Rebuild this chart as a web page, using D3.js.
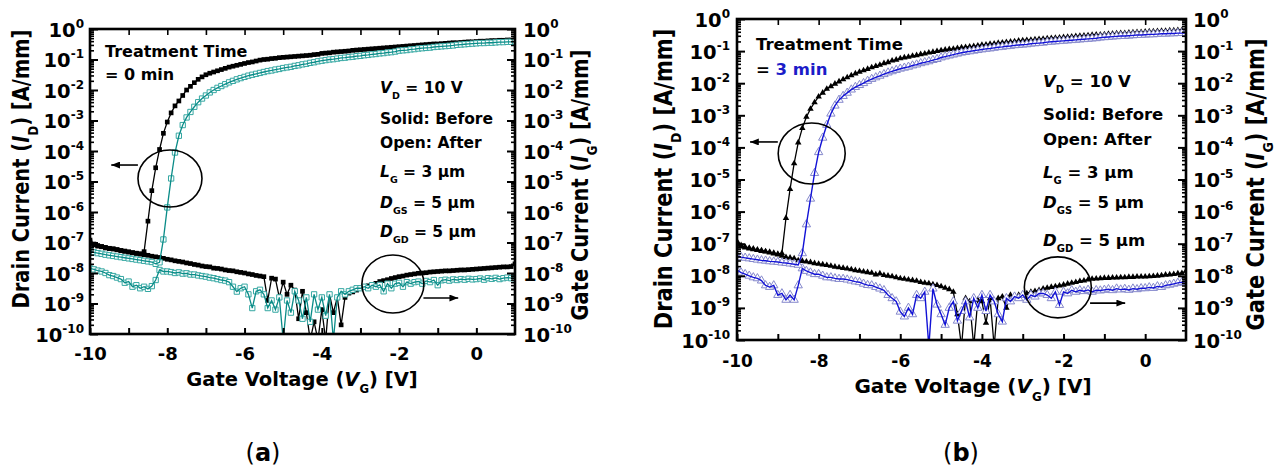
<!DOCTYPE html>
<html><head><meta charset="utf-8">
<script src="https://cdn.jsdelivr.net/npm/d3@7"></script>
<style>
body{margin:0;background:#fff}
svg{display:block}
text{font-family:"DejaVu Sans",Verdana,sans-serif;font-weight:bold;fill:#000}
</style>
</head><body>
<svg id="c" width="1282" height="468"></svg>
<script>
// Gate voltage grid (V)
const vg = [-10,-9.9,-9.8,-9.7,-9.6,-9.5,-9.4,-9.3,-9.2,-9.1,
 -9,-8.9,-8.8,-8.7,-8.6,-8.5,-8.4,-8.3,-8.2,-8.1,
 -8,-7.9,-7.8,-7.7,-7.6,-7.5,-7.4,-7.3,-7.2,-7.1,
 -7,-6.9,-6.8,-6.7,-6.6,-6.5,-6.4,-6.3,-6.2,-6.1,
 -6,-5.9,-5.8,-5.7,-5.6,-5.5,-5.4,-5.3,-5.2,-5.1,
 -5,-4.9,-4.8,-4.7,-4.6,-4.5,-4.4,-4.3,-4.2,-4.1,
 -4,-3.9,-3.8,-3.7,-3.6,-3.5,-3.4,-3.3,-3.2,-3.1,
 -3,-2.9,-2.8,-2.7,-2.6,-2.5,-2.4,-2.3,-2.2,-2.1,
 -2,-1.9,-1.8,-1.7,-1.6,-1.5,-1.4,-1.3,-1.2,-1.1,
 -1,-0.9,-0.8,-0.7,-0.6,-0.5,-0.4,-0.3,-0.2,-0.1,
 0,0.1,0.2,0.3,0.4,0.5,0.6,0.7,0.8,0.9,
 1];

// All currents below are log10 of the current in A/mm.
// Panel (a), treatment time 0 min
const idBeforeA = [-6.92,-7.05,-7.10,-7.13,-7.16,-7.19,-7.21,-7.23,-7.26,-7.28,
 -7.31,-7.33,-7.35,-7.37,-7.30,-6.30,-5.30,-4.55,-3.95,-3.42,
 -3.05,-2.75,-2.52,-2.36,-2.18,-2.00,-1.88,-1.76,-1.65,-1.57,
 -1.50,-1.45,-1.41,-1.37,-1.33,-1.29,-1.25,-1.22,-1.19,-1.16,
 -1.13,-1.10,-1.08,-1.05,-1.02,-1.00,-0.99,-0.97,-0.96,-0.94,
 -0.93,-0.92,-0.91,-0.90,-0.89,-0.88,-0.87,-0.86,-0.84,-0.83,
 -0.80,-0.79,-0.78,-0.76,-0.75,-0.74,-0.73,-0.72,-0.70,-0.69,
 -0.68,-0.67,-0.66,-0.65,-0.64,-0.63,-0.62,-0.61,-0.60,-0.59,
 -0.58,-0.57,-0.56,-0.55,-0.54,-0.53,-0.52,-0.51,-0.50,-0.49,
 -0.49,-0.48,-0.47,-0.46,-0.45,-0.45,-0.44,-0.43,-0.42,-0.42,
 -0.41,-0.40,-0.40,-0.39,-0.38,-0.38,-0.37,-0.37,-0.36,-0.36,
 -0.35];
const igBeforeA = [-6.98,-7.08,-7.12,-7.14,-7.18,-7.20,-7.21,-7.24,-7.27,-7.29,
 -7.31,-7.34,-7.36,-7.38,-7.40,-7.42,-7.45,-7.47,-7.49,-7.52,
 -7.55,-7.57,-7.60,-7.62,-7.64,-7.67,-7.69,-7.72,-7.74,-7.77,
 -7.79,-7.80,-7.84,-7.85,-7.87,-7.90,-7.92,-7.93,-7.96,-7.98,
 -8.00,-8.03,-8.05,-8.08,-8.10,-8.12,-8.90,-8.17,-8.20,-8.80,
 -8.30,-8.70,-8.40,-8.56,-9.50,-8.60,-9.30,-10.2,-9.60,-10.2,
 -9.20,-10.2,-8.70,-9.30,-8.80,-9.70,-8.80,-8.66,-8.62,-8.56,
 -8.50,-8.46,-8.42,-8.38,-8.34,-8.28,-8.25,-8.22,-8.18,-8.15,
 -8.12,-8.10,-8.07,-8.05,-8.03,-8.01,-8.00,-7.99,-7.97,-7.96,
 -7.95,-7.94,-7.93,-7.93,-7.92,-7.91,-7.90,-7.90,-7.89,-7.88,
 -7.87,-7.86,-7.85,-7.84,-7.83,-7.82,-7.81,-7.80,-7.80,-7.79,
 -7.70];
const idAfterA = [-7.28,-7.32,-7.35,-7.37,-7.40,-7.42,-7.44,-7.46,-7.48,-7.50,
 -7.52,-7.54,-7.56,-7.58,-7.60,-7.62,-7.64,-7.70,-7.65,-6.90,
 -5.85,-4.90,-4.05,-3.50,-3.15,-2.90,-2.72,-2.55,-2.40,-2.28,
 -2.18,-2.08,-2.00,-1.93,-1.87,-1.81,-1.75,-1.70,-1.65,-1.61,
 -1.57,-1.53,-1.50,-1.47,-1.44,-1.41,-1.38,-1.36,-1.33,-1.31,
 -1.28,-1.26,-1.24,-1.21,-1.19,-1.16,-1.14,-1.11,-1.09,-1.06,
 -1.04,-1.02,-1.00,-0.99,-0.97,-0.95,-0.94,-0.92,-0.91,-0.89,
 -0.88,-0.86,-0.85,-0.83,-0.82,-0.80,-0.79,-0.77,-0.76,-0.74,
 -0.71,-0.70,-0.69,-0.67,-0.66,-0.64,-0.63,-0.62,-0.61,-0.59,
 -0.58,-0.57,-0.56,-0.55,-0.54,-0.52,-0.51,-0.50,-0.49,-0.48,
 -0.47,-0.46,-0.46,-0.45,-0.45,-0.44,-0.43,-0.43,-0.42,-0.42,
 -0.41];
const igAfterA = [-7.85,-7.88,-7.92,-7.95,-8.00,-8.07,-8.10,-8.15,-8.20,-8.32,
 -8.28,-8.45,-8.40,-8.50,-8.45,-8.52,-8.43,-8.23,-7.90,-7.95,
 -7.95,-7.97,-8.00,-7.98,-8.02,-8.01,-8.05,-8.05,-8.08,-8.10,
 -8.12,-8.15,-8.17,-8.20,-8.23,-8.25,-8.30,-8.45,-8.61,-8.50,
 -8.45,-8.70,-9.15,-8.60,-8.55,-8.70,-9.15,-8.90,-9.20,-8.80,
 -10.2,-8.90,-9.30,-8.60,-8.90,-9.50,-8.80,-9.60,-8.70,-9.20,
 -8.80,-9.40,-8.70,-10.2,-8.80,-8.60,-8.70,-8.60,-8.55,-8.50,
 -8.50,-8.45,-8.50,-8.40,-8.45,-8.39,-8.60,-8.35,-8.50,-8.35,
 -8.32,-8.45,-8.30,-8.35,-8.30,-8.28,-8.35,-8.26,-8.30,-8.23,
 -8.40,-8.24,-8.22,-8.25,-8.21,-8.23,-8.20,-8.22,-8.19,-8.21,
 -8.20,-8.18,-8.22,-8.17,-8.19,-8.16,-8.20,-8.17,-8.15,-8.17,
 -8.17];

// Panel (b), treatment time 3 min
const idBeforeB = [-6.92,-7.05,-7.10,-7.13,-7.16,-7.19,-7.21,-7.24,-7.26,-7.29,
 -7.32,-7.30,-6.20,-5.30,-4.50,-3.85,-3.40,-3.05,-2.80,-2.60,
 -2.42,-2.30,-2.18,-2.10,-2.02,-1.95,-1.88,-1.82,-1.76,-1.70,
 -1.65,-1.60,-1.56,-1.51,-1.47,-1.43,-1.38,-1.35,-1.30,-1.27,
 -1.23,-1.20,-1.18,-1.15,-1.13,-1.10,-1.08,-1.05,-1.03,-1.00,
 -0.98,-0.96,-0.94,-0.93,-0.91,-0.89,-0.88,-0.86,-0.85,-0.83,
 -0.81,-0.80,-0.78,-0.77,-0.75,-0.74,-0.72,-0.71,-0.70,-0.68,
 -0.67,-0.66,-0.65,-0.64,-0.63,-0.62,-0.61,-0.60,-0.59,-0.58,
 -0.57,-0.56,-0.55,-0.54,-0.53,-0.52,-0.51,-0.50,-0.49,-0.49,
 -0.48,-0.47,-0.46,-0.45,-0.44,-0.44,-0.43,-0.42,-0.41,-0.41,
 -0.40,-0.39,-0.39,-0.38,-0.37,-0.37,-0.36,-0.36,-0.35,-0.35,
 -0.34];
const igBeforeB = [-6.98,-7.09,-7.12,-7.15,-7.18,-7.20,-7.23,-7.25,-7.28,-7.31,
 -7.34,-7.38,-7.42,-7.44,-7.46,-7.52,-7.54,-7.56,-7.58,-7.61,
 -7.63,-7.65,-7.67,-7.69,-7.72,-7.74,-7.76,-7.78,-7.80,-7.83,
 -7.85,-7.87,-7.89,-7.91,-7.96,-7.93,-7.98,-8.00,-8.02,-8.05,
 -8.08,-8.10,-8.12,-8.14,-8.16,-8.20,-8.22,-8.24,-8.27,-8.29,
 -8.33,-8.38,-8.42,-8.50,-9.20,-10.2,-8.70,-8.80,-10.2,-8.75,
 -8.80,-9.47,-8.70,-10.2,-8.70,-8.65,-9.00,-8.60,-8.65,-8.60,
 -8.58,-8.55,-8.50,-8.48,-8.45,-8.40,-8.38,-8.35,-8.33,-8.31,
 -8.28,-8.25,-8.22,-8.20,-8.17,-8.15,-8.12,-8.10,-8.09,-8.08,
 -8.07,-8.07,-8.06,-8.06,-8.05,-8.05,-8.04,-8.04,-8.03,-8.03,
 -8.03,-8.02,-8.01,-8.00,-7.99,-7.97,-7.96,-7.95,-7.93,-7.92,
 -7.85];
const idAfterB = [-7.38,-7.42,-7.44,-7.46,-7.48,-7.50,-7.52,-7.53,-7.55,-7.56,
 -7.57,-7.59,-7.60,-7.62,-7.64,-7.66,-7.30,-6.40,-5.60,-4.80,
 -4.15,-3.70,-3.30,-2.95,-2.70,-2.52,-2.40,-2.30,-2.20,-2.12,
 -2.06,-2.00,-1.93,-1.87,-1.82,-1.77,-1.72,-1.67,-1.63,-1.59,
 -1.55,-1.52,-1.49,-1.45,-1.42,-1.38,-1.35,-1.32,-1.28,-1.25,
 -1.20,-1.17,-1.14,-1.11,-1.08,-1.05,-1.03,-1.01,-0.99,-0.97,
 -0.95,-0.93,-0.92,-0.90,-0.88,-0.87,-0.85,-0.84,-0.82,-0.81,
 -0.80,-0.79,-0.77,-0.76,-0.75,-0.74,-0.72,-0.71,-0.70,-0.69,
 -0.68,-0.67,-0.66,-0.65,-0.64,-0.63,-0.62,-0.61,-0.60,-0.58,
 -0.57,-0.56,-0.55,-0.54,-0.53,-0.53,-0.52,-0.51,-0.50,-0.50,
 -0.49,-0.48,-0.48,-0.47,-0.46,-0.46,-0.45,-0.45,-0.44,-0.44,
 -0.44];
const igAfterB = [-7.82,-7.90,-7.95,-8.00,-8.05,-8.08,-8.15,-8.30,-8.35,-8.30,
 -8.60,-8.55,-8.75,-8.60,-8.75,-8.30,-7.77,-7.85,-7.90,-7.95,
 -7.95,-8.00,-8.05,-8.05,-8.08,-8.10,-8.10,-8.12,-8.15,-8.18,
 -8.20,-8.25,-8.29,-8.30,-8.35,-8.40,-8.45,-8.60,-8.70,-8.80,
 -9.12,-9.27,-9.00,-9.20,-8.60,-8.70,-8.50,-10.2,-8.40,-8.90,
 -9.20,-9.53,-9.00,-8.80,-9.40,-9.10,-8.80,-9.30,-8.70,-9.00,
 -8.60,-9.10,-8.60,-8.80,-9.20,-9.43,-8.70,-8.80,-8.65,-8.70,
 -8.60,-8.75,-8.60,-8.65,-8.55,-8.55,-8.60,-8.70,-8.50,-8.91,
 -8.50,-8.55,-8.45,-8.50,-8.45,-8.48,-8.44,-8.50,-8.45,-8.46,
 -8.44,-8.42,-8.45,-8.40,-8.43,-8.41,-8.44,-8.40,-8.42,-8.39,
 -8.39,-8.36,-8.38,-8.33,-8.35,-8.30,-8.28,-8.25,-8.22,-8.20,
 -8.18];

// Axis tick values
const yDecades = [1e0,1e-1,1e-2,1e-3,1e-4,1e-5,1e-6,1e-7,1e-8,1e-9,1e-10];
const xLabelTicks = [-10,-8,-6,-4,-2,0];
const xMinorTicks = [-9,-7,-5,-3,-1];
const xTopTicks = [-9,-8,-7,-6,-5,-4,-3,-2,-1,0];

const svg = d3.select('#c');
const defs = svg.append('defs');
defs.append('marker').attr('id','arr').attr('viewBox','0 0 10 8').attr('refX',10).attr('refY',4)
  .attr('markerWidth',10).attr('markerHeight',7).attr('markerUnits','userSpaceOnUse').attr('orient','auto')
  .append('path').attr('d','M0,0L10,4L0,8Z').attr('fill','#000');

function rich(t, parts, fs){
  let shift = 0;
  parts.forEach(p=>{
    const s = t.append('tspan').text(p.t);
    const target = p.sub ? fs*0.38 : 0;
    if(target !== shift){ s.attr('dy', target-shift); shift = target; }
    if(p.sub) s.attr('font-size', p.ss || fs*0.6);
    if(p.i) s.attr('font-style','italic');
    if(p.c) s.style('fill', p.c);
    if(p.w) s.attr('font-weight', p.w);
  });
}

function drawPanel(cfg){
  const x = d3.scaleLinear().domain([-10,1]).range([cfg.x0, cfg.x1]);
  const y = d3.scaleLog().domain([1e-10,1]).range([cfg.y1, cfg.y0]);
  const g = svg.append('g');
  defs.append('clipPath').attr('id','clip'+cfg.id).append('rect')
    .attr('x',cfg.x0).attr('y',cfg.y0).attr('width',cfg.x1-cfg.x0).attr('height',cfg.y1-cfg.y0);
  const plot = g.append('g').attr('clip-path',`url(#clip${cfg.id})`);

  cfg.series.forEach(s=>{
    const pts = s.vals.map((v,i)=>[vg[i], Math.pow(10,v)]);
    const line = d3.line().x(d=>x(d[0])).y(d=>y(d[1]));
    const sym = d3.symbol().type(s.shape==='sq' ? d3.symbolSquare : d3.symbolTriangle).size(s.size);
    const drawLine = ()=>plot.append('path').attr('d', line(pts)).attr('fill','none')
      .attr('stroke', s.lineColor).attr('stroke-width', s.lw);
    if(!s.lineOnTop) drawLine();
    plot.append('g').selectAll('path').data(pts).join('path')
      .attr('transform', d=>`translate(${x(d[0])},${y(d[1])})`)
      .attr('d', sym).attr('fill', s.fill).attr('stroke', s.stroke).attr('stroke-width', s.sw);
    if(s.lineOnTop) drawLine();
  });

  const majorStyle = sel => { sel.select('.domain').remove(); sel.selectAll('line').attr('stroke','#000').attr('stroke-width',2); };
  const minorStyle = sel => { sel.select('.domain').remove(); sel.selectAll('line').attr('stroke','#000').attr('stroke-width',1.6); sel.selectAll('text').remove(); };
  const minors = y.ticks(40).filter(v => !yDecades.some(d => Math.abs(Math.log10(v)-Math.log10(d))<1e-6));

  const styleYLabels = sel => {
    sel.attr('font-family', null).attr('font-size', null);
    sel.selectAll('.tick text').each(function(d){
      const t = d3.select(this);
      const e = Math.round(Math.log10(d));
      t.text(null).attr('dy', null).attr('y', cfg.yLabDy).attr('font-size', cfg.tickFs);
      t.append('tspan').text('10');
      t.append('tspan').attr('font-size', cfg.supFs).attr('dy', -cfg.supRaise).text(String(e));
    });
  };
  g.append('g').attr('transform',`translate(${cfg.x0},0)`)
    .call(d3.axisLeft(y).tickValues(yDecades).tickSizeInner(-8).tickSizeOuter(0).tickPadding(cfg.leftPad))
    .call(majorStyle).call(styleYLabels);
  g.append('g').attr('transform',`translate(${cfg.x0},0)`)
    .call(d3.axisLeft(y).tickValues(minors).tickSizeInner(-4).tickSizeOuter(0).tickFormat(''))
    .call(minorStyle);
  g.append('g').attr('transform',`translate(${cfg.x1},0)`)
    .call(d3.axisRight(y).tickValues(yDecades).tickSizeInner(-8).tickSizeOuter(0).tickPadding(cfg.rightPad))
    .call(majorStyle).call(styleYLabels);
  g.append('g').attr('transform',`translate(${cfg.x1},0)`)
    .call(d3.axisRight(y).tickValues(minors).tickSizeInner(-4).tickSizeOuter(0).tickFormat(''))
    .call(minorStyle);

  g.append('g').attr('transform',`translate(0,${cfg.y1})`)
    .call(d3.axisBottom(x).tickValues(xLabelTicks).tickSizeInner(-6).tickSizeOuter(0).tickFormat(d=>String(d)))
    .call(majorStyle)
    .call(sel=>{ sel.attr('font-family',null).attr('font-size',null);
      sel.selectAll('.tick text').attr('dy',null).attr('y',cfg.xLabDy).attr('font-size',cfg.xTickFs); });
  g.append('g').attr('transform',`translate(0,${cfg.y1})`)
    .call(d3.axisBottom(x).tickValues(xMinorTicks).tickSizeInner(-6).tickSizeOuter(0).tickFormat(''))
    .call(majorStyle);
  g.append('g').attr('transform',`translate(0,${cfg.y0})`)
    .call(d3.axisTop(x).tickValues(xTopTicks).tickSizeInner(-6).tickSizeOuter(0).tickFormat(''))
    .call(minorStyle);

  g.append('rect').attr('x',cfg.x0).attr('y',cfg.y0).attr('width',cfg.x1-cfg.x0).attr('height',cfg.y1-cfg.y0)
    .attr('fill','none').attr('stroke','#000').attr('stroke-width',2.6);

  const xt = g.append('text').attr('x',cfg.xTitle[0]).attr('y',cfg.xTitle[1]).attr('text-anchor','middle').attr('font-size',cfg.xTitleFs);
  rich(xt, [{t:'Gate Voltage ('},{t:'V',i:true},{t:'G',sub:true},{t:') [V]'}], cfg.xTitleFs);
  const lt = g.append('text').attr('text-anchor','middle').attr('font-size',cfg.yTitleFs)
    .attr('transform',`translate(${cfg.lTitle[0]},${cfg.lTitle[1]}) rotate(-90) scale(1,${cfg.yTitleStretch})`);
  rich(lt, [{t:'Drain Current ('},{t:'I',i:true},{t:'D',sub:true},{t:') [A/mm]'}], cfg.yTitleFs);
  const rt = g.append('text').attr('text-anchor','middle').attr('font-size',cfg.yTitleFs)
    .attr('transform',`translate(${cfg.rTitle[0]},${cfg.rTitle[1]}) rotate(-90) scale(1,${cfg.yTitleStretch})`);
  rich(rt, [{t:'Gate Current ('},{t:'I',i:true},{t:'G',sub:true},{t:') [A/mm]'}], cfg.yTitleFs);

  const tt = cfg.treat;
  g.append('text').attr('x',tt.x).attr('y',tt.y1).attr('font-size',tt.fs).text('Treatment Time');
  const t2 = g.append('text').attr('x',tt.x).attr('y',tt.y2).attr('font-size',tt.fs);
  rich(t2, [{t:'= '},{t:tt.time, c:tt.color}], tt.fs);

  const nb = cfg.notes;
  const mu = '\u03bcm';
  const noteParts = [
    [{t:'V',i:true},{t:'D',sub:true,ss:nb.ss},{t:' = 10 V'}],
    [{t:'Solid: Before'}],
    [{t:'Open: After'}],
    [{t:'L',i:true},{t:'G',sub:true,ss:nb.ss},{t:' = 3 '},{t:mu}],
    [{t:'D',i:true},{t:'GS',sub:true,ss:nb.ss},{t:' = 5 '},{t:mu}],
    [{t:'D',i:true},{t:'GD',sub:true,ss:nb.ss},{t:' = 5 '},{t:mu}]
  ];
  noteParts.forEach((p,k)=>{
    const t = g.append('text').attr('x',nb.x).attr('y',nb.ys[k]).attr('font-size',nb.fs);
    rich(t, p, nb.fs);
  });

  cfg.rings.forEach(r=>{
    g.append('ellipse').attr('cx',x(r.v)).attr('cy',y(Math.pow(10,r.l))).attr('rx',r.rx).attr('ry',r.ry)
      .attr('fill','none').attr('stroke','#000').attr('stroke-width',1.6);
    g.append('line').attr('x1',x(r.a0)).attr('x2',x(r.a1)).attr('y1',y(Math.pow(10,r.al))).attr('y2',y(Math.pow(10,r.al)))
      .attr('stroke','#000').attr('stroke-width',1.6).attr('marker-end','url(#arr)');
  });

  const pl = g.append('text').attr('x',cfg.plabel[0]).attr('y',cfg.plabel[1]).attr('text-anchor','middle')
    .attr('font-size',24).attr('font-family','"Liberation Serif","DejaVu Serif",serif').attr('font-weight','normal');
  rich(pl, [{t:'(',w:'normal'},{t:cfg.id,w:'bold'},{t:')',w:'normal'}], 24);
}

const tealLine = '#0a8c88', tealMark = '#34a7a2';
const blueLine = '#1212d6', blueMark = '#8588cc';

drawPanel({
  id:'a', x0:90, x1:515, y0:29, y1:334,
  tickFs:19.5, supFs:12, supRaise:9, yLabDy:7, leftPad:6, rightPad:8,
  xTickFs:18, xLabDy:26,
  xTitle:[302,386], xTitleFs:19.5,
  lTitle:[29,169], rTitle:[588,185], yTitleFs:19.5, yTitleStretch:1.2,
  treat:{x:105, y1:57, y2:80, fs:16, time:'0 min', color:'#000'},
  notes:{x:380, ys:[93,124,148,177,208,237], fs:15.5, ss:9.5},
  rings:[{v:-7.93,l:-4.9,rx:32,ry:28.5,a0:-8.76,a1:-9.45,al:-4.46},
         {v:-2.16,l:-8.36,rx:31,ry:29,a0:-1.37,a1:-0.47,al:-8.82}],
  plabel:[263,461],
  series:[
    {vals:idBeforeA, shape:'sq', size:22, fill:'#000', stroke:'none', sw:0, lineColor:'#000', lw:1.3},
    {vals:igBeforeA, shape:'sq', size:22, fill:'#000', stroke:'none', sw:0, lineColor:'#000', lw:1.3},
    {vals:igAfterA, shape:'sq', size:28, fill:'#fff', stroke:tealMark, sw:1, lineColor:tealLine, lw:1.3, lineOnTop:true},
    {vals:idAfterA, shape:'sq', size:28, fill:'#fff', stroke:tealMark, sw:1, lineColor:tealLine, lw:1.3, lineOnTop:true}
  ]
});

drawPanel({
  id:'b', x0:737, x1:1186, y0:19, y1:340,
  tickFs:19.5, supFs:12, supRaise:9, yLabDy:7, leftPad:7, rightPad:7,
  xTickFs:17, xLabDy:27,
  xTitle:[973,393], xTitleFs:20,
  lTitle:[672,179], rTitle:[1264,184.5], yTitleFs:21, yTitleStretch:1.18,
  treat:{x:756, y1:50, y2:75, fs:16.5, time:'3 min', color:'#1c1cc8'},
  notes:{x:1043, ys:[87,120,145,178,208,246], fs:16.5, ss:10},
  rings:[{v:-8.17,l:-4.19,rx:33.5,ry:30.5,a0:-9.0,a1:-9.68,al:-3.83},
         {v:-2.14,l:-8.36,rx:33.5,ry:30.5,a0:-1.35,a1:-0.49,al:-8.85}],
  plabel:[961,461],
  series:[
    {vals:idBeforeB, shape:'tri', size:18, fill:'#000', stroke:'none', sw:0, lineColor:'#000', lw:1.3},
    {vals:igBeforeB, shape:'tri', size:18, fill:'#000', stroke:'none', sw:0, lineColor:'#000', lw:1.3},
    {vals:igAfterB, shape:'tri', size:30, fill:'#fff', stroke:blueMark, sw:1, lineColor:blueLine, lw:1.4, lineOnTop:true},
    {vals:idAfterB, shape:'tri', size:30, fill:'#fff', stroke:blueMark, sw:1, lineColor:blueLine, lw:1.4, lineOnTop:true}
  ]
});
</script>
</body></html>
